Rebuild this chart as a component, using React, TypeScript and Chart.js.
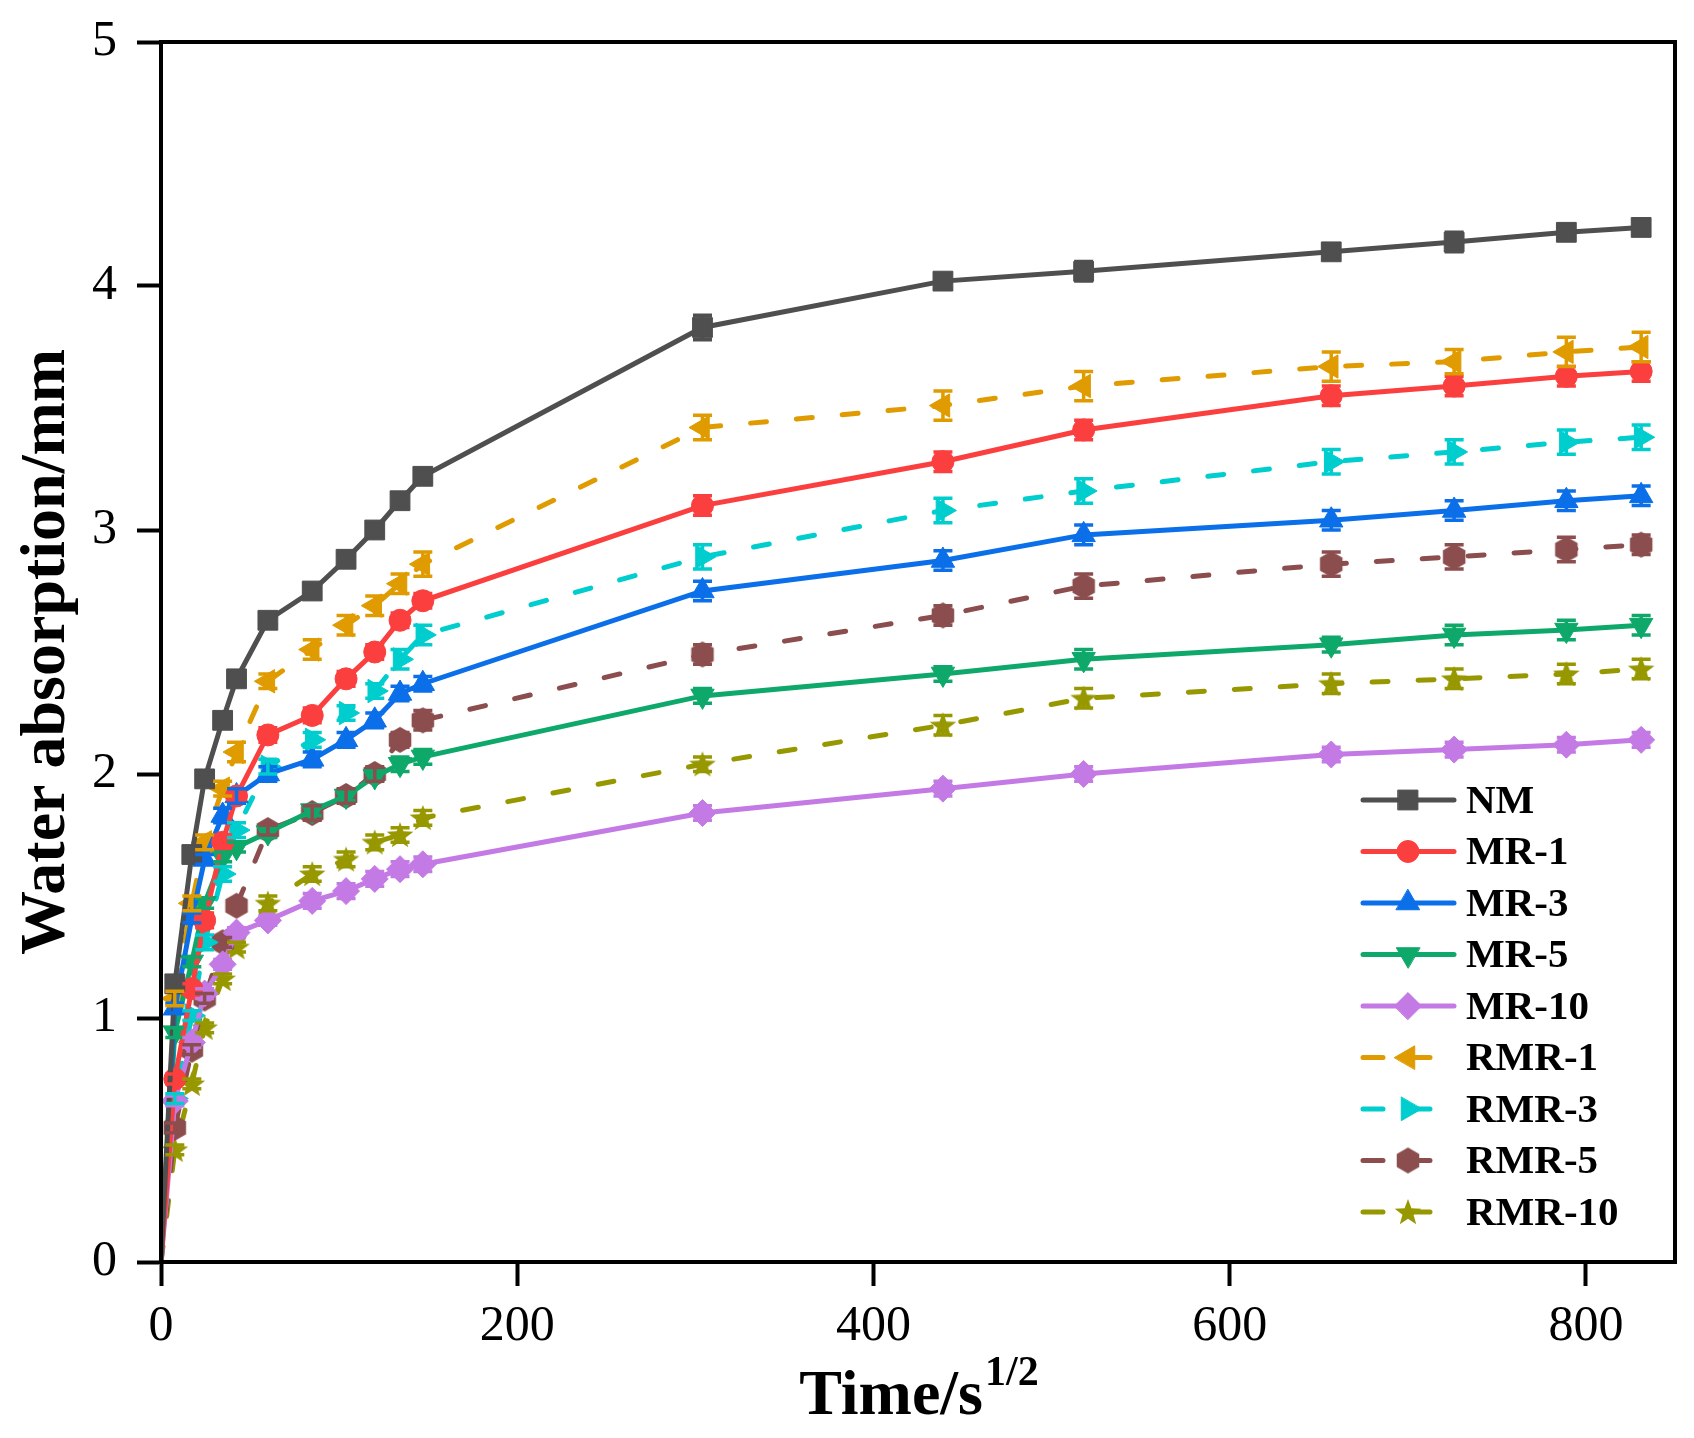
import React, { useEffect, useRef } from 'react';
import { Chart, registerables } from 'chart.js';
import { drawPoint } from 'chart.js/helpers';

Chart.register(...registerables);

// square root of elapsed time (s^1/2)
const rootTime = [0, 7.75, 17.3, 24.5, 34.6, 42.4, 60, 84.9, 103.9, 120, 134.2, 147, 304, 439, 518, 657, 726, 789, 831];

const seriesNames = ['NM', 'MR-1', 'MR-3', 'MR-5', 'MR-10', 'RMR-1', 'RMR-3', 'RMR-5', 'RMR-10'];

// water absorption (mm)
const nmValues = [0, 1.14, 1.67, 1.98, 2.22, 2.39, 2.63, 2.75, 2.88, 3.0, 3.12, 3.22, 3.83, 4.02, 4.06, 4.14, 4.18, 4.22, 4.24];
const mr1Values = [0, 0.75, 1.12, 1.4, 1.72, 1.91, 2.16, 2.24, 2.39, 2.5, 2.63, 2.71, 3.1, 3.28, 3.41, 3.55, 3.59, 3.63, 3.65];
const mr3Values = [0, 1.04, 1.41, 1.65, 1.83, 1.91, 2.0, 2.06, 2.14, 2.22, 2.33, 2.37, 2.75, 2.875, 2.98, 3.04, 3.08, 3.12, 3.14];
const mr5Values = [0, 0.94, 1.23, 1.47, 1.66, 1.7, 1.76, 1.85, 1.91, 1.99, 2.04, 2.07, 2.32, 2.41, 2.47, 2.53, 2.57, 2.59, 2.61];
const mr10Values = [0, 0.66, 0.9, 1.1, 1.22, 1.35, 1.4, 1.48, 1.52, 1.57, 1.61, 1.63, 1.84, 1.94, 2.0, 2.08, 2.1, 2.12, 2.14];
const rmr1Values = [0, 1.08, 1.47, 1.72, 1.94, 2.09, 2.38, 2.51, 2.61, 2.69, 2.78, 2.86, 3.42, 3.51, 3.59, 3.67, 3.69, 3.73, 3.75];
const rmr3Values = [0, 0.67, 1.01, 1.31, 1.59, 1.77, 2.03, 2.14, 2.25, 2.34, 2.47, 2.57, 2.89, 3.08, 3.16, 3.28, 3.32, 3.36, 3.38];
const rmr5Values = [0, 0.55, 0.87, 1.08, 1.31, 1.46, 1.77, 1.84, 1.91, 2.0, 2.14, 2.22, 2.49, 2.65, 2.77, 2.86, 2.89, 2.92, 2.94];
const rmr10Values = [0, 0.46, 0.73, 0.96, 1.16, 1.29, 1.47, 1.59, 1.65, 1.72, 1.75, 1.82, 2.04, 2.2, 2.31, 2.37, 2.39, 2.41, 2.43];

// standard deviation (mm)
const nmErr = [0, 0.02, 0.02, 0.02, 0.02, 0.02, 0.02, 0.02, 0.02, 0.02, 0.03, 0.02, 0.05, 0.03, 0.04, 0.03, 0.04, 0.03, 0.03];
const mr1Err = [0, 0.02, 0.02, 0.03, 0.03, 0.02, 0.03, 0.03, 0.03, 0.03, 0.03, 0.03, 0.04, 0.04, 0.04, 0.04, 0.04, 0.04, 0.04];
const mr3Err = [0, 0.02, 0.02, 0.02, 0.03, 0.03, 0.03, 0.03, 0.03, 0.03, 0.03, 0.03, 0.04, 0.04, 0.04, 0.04, 0.04, 0.04, 0.04];
const mr5Err = [0, 0.02, 0.02, 0.02, 0.02, 0.02, 0.02, 0.02, 0.02, 0.02, 0.03, 0.03, 0.03, 0.03, 0.04, 0.03, 0.04, 0.04, 0.04];
const mr10Err = [0, 0.02, 0.02, 0.02, 0.02, 0.02, 0.02, 0.03, 0.03, 0.03, 0.03, 0.03, 0.03, 0.03, 0.03, 0.03, 0.03, 0.03, 0.03];
const rmr1Err = [0, 0.03, 0.03, 0.03, 0.03, 0.04, 0.03, 0.04, 0.04, 0.04, 0.04, 0.05, 0.05, 0.06, 0.06, 0.06, 0.05, 0.06, 0.06];
const rmr3Err = [0, 0.02, 0.02, 0.03, 0.03, 0.03, 0.03, 0.03, 0.03, 0.03, 0.04, 0.04, 0.05, 0.05, 0.05, 0.05, 0.05, 0.05, 0.05];
const rmr5Err = [0, 0.02, 0.02, 0.02, 0.02, 0.02, 0.02, 0.03, 0.03, 0.03, 0.03, 0.04, 0.04, 0.04, 0.05, 0.05, 0.05, 0.05, 0.04];
const rmr10Err = [0, 0.02, 0.02, 0.02, 0.02, 0.02, 0.03, 0.03, 0.03, 0.03, 0.03, 0.03, 0.03, 0.04, 0.04, 0.04, 0.04, 0.04, 0.04];

const seriesValues = [nmValues, mr1Values, mr3Values, mr5Values, mr10Values, rmr1Values, rmr3Values, rmr5Values, rmr10Values];
const seriesErrors = [nmErr, mr1Err, mr3Err, mr5Err, mr10Err, rmr1Err, rmr3Err, rmr5Err, rmr10Err];

const colors = ['#4f4f4f', '#fb3f3f', '#0a6fe8', '#0ea86a', '#c47ae4', '#e09b00', '#00cdcd', '#8b4d4d', '#979800'];
const dashed = [false, false, false, false, false, true, true, true, true];

const SERIF = '"Liberation Serif", "Times New Roman", serif';

function makeHexagon(color: string) {
  const c = document.createElement('canvas');
  c.width = 26;
  c.height = 28;
  const g = c.getContext('2d')!;
  g.fillStyle = color;
  g.beginPath();
  for (let k = 0; k < 6; k++) {
    const a = (Math.PI / 3) * k;
    const px = 13 + Math.sin(a) * 13;
    const py = 14 - Math.cos(a) * 13;
    if (k === 0) g.moveTo(px, py);
    else g.lineTo(px, py);
  }
  g.closePath();
  g.fill();
  return c;
}

function makeStar(color: string) {
  const c = document.createElement('canvas');
  c.width = 30;
  c.height = 30;
  const g = c.getContext('2d')!;
  g.fillStyle = color;
  g.beginPath();
  for (let k = 0; k < 10; k++) {
    const a = (Math.PI / 5) * k;
    const r = k % 2 === 0 ? 14 : 5.8;
    const px = 15 + Math.sin(a) * r;
    const py = 16 - Math.cos(a) * r;
    if (k === 0) g.moveTo(px, py);
    else g.lineTo(px, py);
  }
  g.closePath();
  g.fill();
  return c;
}

const errorBars = {
  id: 'errorBars',
  afterDatasetsDraw(chart: any) {
    const ctx = chart.ctx;
    const yScale = chart.scales.y;
    chart.data.datasets.forEach((ds: any, i: number) => {
      const meta = chart.getDatasetMeta(i);
      ctx.save();
      ctx.strokeStyle = ds.borderColor;
      ctx.lineWidth = 3.5;
      ctx.setLineDash([]);
      meta.data.forEach((pt: any, j: number) => {
        if (j === 0) return;
        const v = ds.data[j].y;
        const e = ds.errors[j];
        const top = yScale.getPixelForValue(v + e);
        const bot = yScale.getPixelForValue(v - e);
        ctx.beginPath();
        ctx.moveTo(pt.x, top);
        ctx.lineTo(pt.x, bot);
        ctx.moveTo(pt.x - 9.5, top);
        ctx.lineTo(pt.x + 9.5, top);
        ctx.moveTo(pt.x - 9.5, bot);
        ctx.lineTo(pt.x + 9.5, bot);
        ctx.stroke();
      });
      ctx.restore();
    });
  },
};

const frameAndText = {
  id: 'frameAndText',
  afterDraw(chart: any) {
    const ctx = chart.ctx;
    const a = chart.chartArea;
    ctx.save();
    ctx.strokeStyle = '#000';
    ctx.lineWidth = 4;
    ctx.strokeRect(a.left, a.top, a.right - a.left, a.bottom - a.top);

    // y axis title
    ctx.fillStyle = '#000';
    ctx.font = `bold 64px ${SERIF}`;
    ctx.textAlign = 'center';
    ctx.textBaseline = 'middle';
    ctx.save();
    ctx.translate(47, (a.top + a.bottom) / 2);
    ctx.rotate(-Math.PI / 2);
    ctx.fillText('Water absorption/mm', 0, 0);
    ctx.restore();

    // x axis title with superscript
    const main = 'Time/s';
    const sup = '1/2';
    ctx.font = `bold 64px ${SERIF}`;
    const wMain = ctx.measureText(main).width;
    ctx.font = `bold 42px ${SERIF}`;
    const wSup = ctx.measureText(sup).width;
    const cx = (a.left + a.right) / 2;
    const x0 = cx - (wMain + wSup) / 2;
    ctx.textAlign = 'left';
    ctx.textBaseline = 'alphabetic';
    ctx.font = `bold 64px ${SERIF}`;
    ctx.fillText(main, x0, 1414);
    ctx.font = `bold 42px ${SERIF}`;
    ctx.fillText(sup, x0 + wMain + 2, 1385);

    // legend
    chart.data.datasets.forEach((ds: any, i: number) => {
      const y = 800 + i * 51.5;
      ctx.strokeStyle = ds.borderColor;
      ctx.lineWidth = 5;
      ctx.lineCap = 'round';
      ctx.setLineDash([]);
      ctx.beginPath();
      if (dashed[i]) {
        ctx.moveTo(1363, y);
        ctx.lineTo(1383, y);
        ctx.moveTo(1408, y);
        ctx.lineTo(1430, y);
      } else {
        ctx.moveTo(1363, y);
        ctx.lineTo(1454, y);
      }
      ctx.stroke();
      ctx.fillStyle = ds.borderColor;
      ctx.lineWidth = 1;
      drawPoint(ctx, {
        pointStyle: ds.pointStyle,
        rotation: ds.pointRotation || 0,
        radius: ds.legendRadius,
        borderWidth: 1,
      } as any, 1408, y);
      ctx.fillStyle = '#000';
      ctx.font = `bold 41px ${SERIF}`;
      ctx.textAlign = 'left';
      ctx.textBaseline = 'middle';
      ctx.fillText(ds.label, 1466, y + 2);
    });
    ctx.restore();
  },
};

const App: React.FC = () => {
  const canvasRef = useRef<HTMLCanvasElement | null>(null);
  const chartRef = useRef<Chart | null>(null);

  useEffect(() => {
    document.body.style.margin = '0';
    if (!canvasRef.current) return;
    if (chartRef.current) chartRef.current.destroy();

    const styles: any[] = [
      { pointStyle: 'rect', r: 14 },
      { pointStyle: 'circle', r: 11 },
      { pointStyle: 'triangle', r: 13.5 },
      { pointStyle: 'triangle', r: 13.5, rot: 180 },
      { pointStyle: 'rectRot', r: 13.5 },
      { pointStyle: 'triangle', r: 13.5, rot: 270 },
      { pointStyle: 'triangle', r: 13.5, rot: 90 },
      { pointStyle: makeHexagon(colors[7]), r: 12 },
      { pointStyle: makeStar(colors[8]), r: 12 },
    ];

    const datasets = seriesNames.map((name, i) => ({
      label: name,
      data: rootTime.map((t, j) => ({ x: t, y: seriesValues[i][j] })),
      errors: seriesErrors[i],
      borderColor: colors[i],
      backgroundColor: colors[i],
      pointBackgroundColor: colors[i],
      pointBorderColor: colors[i],
      pointBorderWidth: 1,
      pointStyle: styles[i].pointStyle,
      pointRotation: styles[i].rot || 0,
      // no marker at the origin
      pointRadius: rootTime.map((_, j) => (j === 0 ? 0 : styles[i].r)),
      legendRadius: styles[i].r,
      borderWidth: 5,
      borderDash: dashed[i] ? [16, 30] : [],
      borderCapStyle: dashed[i] ? 'round' : 'butt',
      tension: 0,
    }));

    chartRef.current = new Chart(canvasRef.current, {
      type: 'line',
      data: { datasets: datasets as any },
      options: {
        responsive: false,
        animation: false,
        devicePixelRatio: 1,
        layout: { padding: { top: 42, right: 19, left: 0, bottom: 0 } },
        plugins: { legend: { display: false }, tooltip: { enabled: false } },
        scales: {
          x: {
            type: 'linear',
            min: 0,
            max: 850,
            afterFit: (s: any) => {
              s.height = 176;
              s.paddingLeft = 0;
              s.paddingRight = 0;
            },
            ticks: {
              stepSize: 200,
              includeBounds: false,
              color: '#000',
              padding: 11,
              maxRotation: 0,
              font: { family: SERIF, size: 50 },
            },
            grid: { drawOnChartArea: false, drawTicks: true, tickLength: 24, tickWidth: 4, tickColor: '#000' },
            border: { display: true, color: '#000', width: 4 },
          },
          y: {
            min: 0,
            max: 5,
            afterFit: (s: any) => {
              s.width = 161;
              s.paddingTop = 0;
              s.paddingBottom = 0;
            },
            ticks: {
              stepSize: 1,
              color: '#000',
              padding: 20,
              font: { family: SERIF, size: 50 },
            },
            grid: { drawOnChartArea: false, drawTicks: true, tickLength: 24, tickWidth: 4, tickColor: '#000' },
            border: { display: true, color: '#000', width: 4 },
          },
        },
      },
      plugins: [errorBars, frameAndText],
    });

    return () => {
      if (chartRef.current) {
        chartRef.current.destroy();
        chartRef.current = null;
      }
    };
  }, []);

  return (
    <div style={{ width: 1694, height: 1438, background: '#fff' }}>
      <canvas ref={canvasRef} width={1694} height={1438} style={{ display: 'block' }} />
    </div>
  );
};

export default App;
